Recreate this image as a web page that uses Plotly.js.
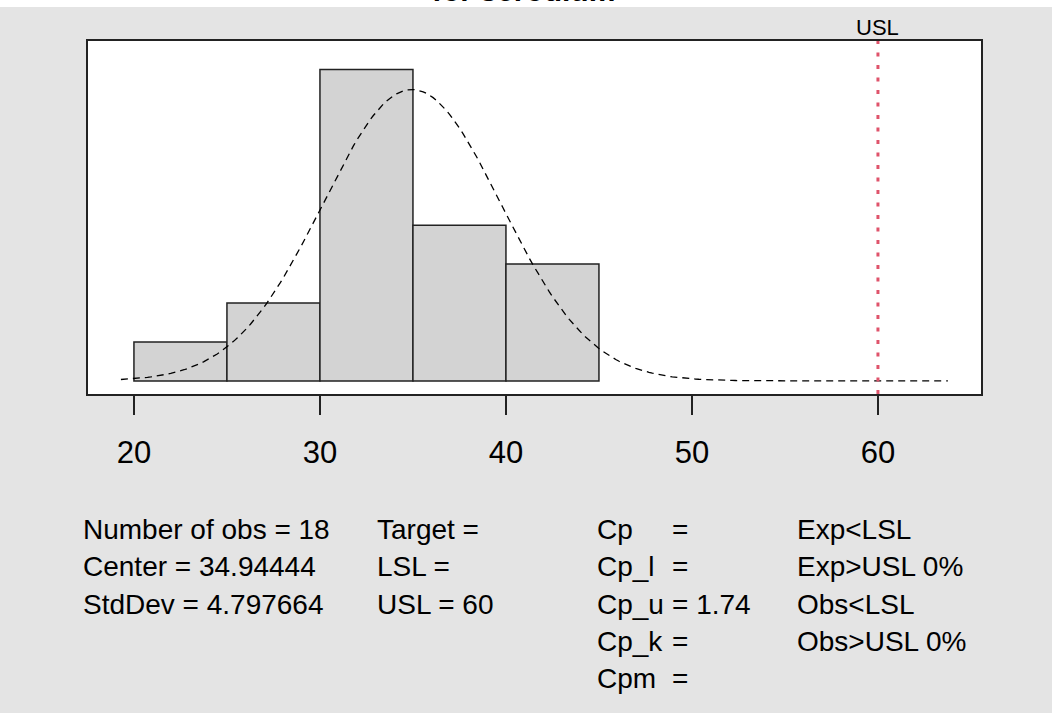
<!DOCTYPE html>
<html><head><meta charset="utf-8">
<script src="https://cdn.plot.ly/plotly-3.0.1.min.js"></script>
<style>html,body{margin:0;padding:0;background:#e4e4e4;} #chart{width:1052px;height:713px;}</style>
</head><body><div id="chart"></div>
<script>
// ---- data ----
const binStarts = [20, 25, 30, 35, 40];
const binWidth = 5;
const binCounts = [1, 2, 8, 4, 3];
const nObs = 18;
const center = 34.94444;
const stdDev = 4.797664;
const USL = 60;
const curveRange = [19.3, 63.76];
const xTickVals = [20, 30, 40, 50, 60];
const xTickText = ['20', '30', '40', '50', '60'];
const statsCol1 = ['Number of obs = 18', 'Center = 34.94444', 'StdDev = 4.797664'];
const statsCol2 = ['Target =', 'LSL =', 'USL = 60'];
const statsCol3 = ['Cp', 'Cp_l', 'Cp_u', 'Cp_k', 'Cpm'];
const statsCol3Val = ['=', '=', '= 1.74', '=', '='];
const statsCol4 = ['Exp<LSL', 'Exp>USL 0%', 'Obs<LSL', 'Obs>USL 0%'];
const titleText = 'for scrodium';
const uslLabel = 'USL';

// ---- geometry helpers (plot area in pixels) ----
const L = 88, R = 981, T = 41, B = 394;
const W = R - L, H = B - T;
const px2x = px => (px - L) / W;
const py2y = py => (B - py) / H;
const esc = s => s.replace(/</g, '&lt;').replace(/>/g, '&gt;');

// ---- traces ----
const barX = binStarts.map(s => s + binWidth / 2);
const barY = binCounts.map(c => c / (nObs * binWidth));
const bars = {
  type: 'bar', x: barX, y: barY, width: binStarts.map(() => binWidth),
  marker: {color: '#d3d3d3', line: {color: '#222', width: 1.5}},
  hoverinfo: 'skip'
};
const nPts = 250;
const cx = [], cy = [];
for (let i = 0; i < nPts; i++) {
  const x = curveRange[0] + (curveRange[1] - curveRange[0]) * i / (nPts - 1);
  cx.push(x);
  cy.push(Math.exp(-0.5 * Math.pow((x - center) / stdDev, 2)) / (stdDev * Math.sqrt(2 * Math.PI)));
}
const curve = {
  type: 'scatter', mode: 'lines', x: cx, y: cy,
  line: {color: '#000', width: 1.3, dash: '7px,5px'}, hoverinfo: 'skip'
};

// ---- annotations ----
const ann = [];
const rowY = [529, 566, 604, 641, 678];
const statFont = {size: 28, color: '#000'};
function addCol(arr, px) {
  arr.forEach((t, i) => ann.push({
    xref: 'paper', yref: 'paper', x: px2x(px), y: py2y(rowY[i]),
    xanchor: 'left', yanchor: 'middle', text: esc(t), showarrow: false, font: statFont
  }));
}
addCol(statsCol1, 81);
addCol(statsCol2, 375);
addCol(statsCol3, 595);
addCol(statsCol3Val, 670);
addCol(statsCol4, 795);
ann.push({xref: 'x', yref: 'paper', x: USL, y: py2y(28), xanchor: 'center', yanchor: 'middle',
  text: uslLabel, showarrow: false, font: {size: 22, color: '#000'}});
ann.push({xref: 'paper', yref: 'paper', x: px2x(523), y: py2y(-9), xanchor: 'center', yanchor: 'middle',
  text: '<b>' + titleText + '</b>', showarrow: false, font: {size: 30, color: '#000'}});

const layout = {
  width: 1052, height: 713,
  margin: {l: L, r: 1052 - R, t: T, b: 713 - B, pad: 0},
  paper_bgcolor: '#e4e4e4', plot_bgcolor: '#ffffff',
  showlegend: false, bargap: 0,
  font: {family: 'Liberation Sans, Arial, sans-serif', color: '#000'},
  xaxis: {
    range: [17.53, 65.54], tickmode: 'array', tickvals: xTickVals, ticktext: xTickText,
    ticks: 'outside', ticklen: 19, tickwidth: 1.5, tickcolor: '#222',
    showline: true, mirror: true, linecolor: '#222', linewidth: 1.8,
    showgrid: false, zeroline: false, tickfont: {size: 31, color: '#000'}, ticklabelstandoff: 11,
    fixedrange: true
  },
  yaxis: {
    range: [-0.00373, 0.0970], showticklabels: false, ticks: '',
    showline: true, mirror: true, linecolor: '#222', linewidth: 1.8,
    showgrid: false, zeroline: false, fixedrange: true
  },
  shapes: [
    {type: 'rect', xref: 'paper', yref: 'paper', x0: -0.2, x1: 1.2, y0: py2y(7), y1: py2y(-5),
      fillcolor: '#ffffff', line: {width: 0}, layer: 'below'},
    {type: 'line', xref: 'x', yref: 'paper', x0: USL, x1: USL, y0: 0, y1: 1,
      line: {color: '#DF536B', width: 3, dash: '4px,8.5px'}}
  ],
  annotations: ann
};
Plotly.newPlot('chart', [bars, curve], layout, {displayModeBar: false, staticPlot: true});
</script>
</body></html>
